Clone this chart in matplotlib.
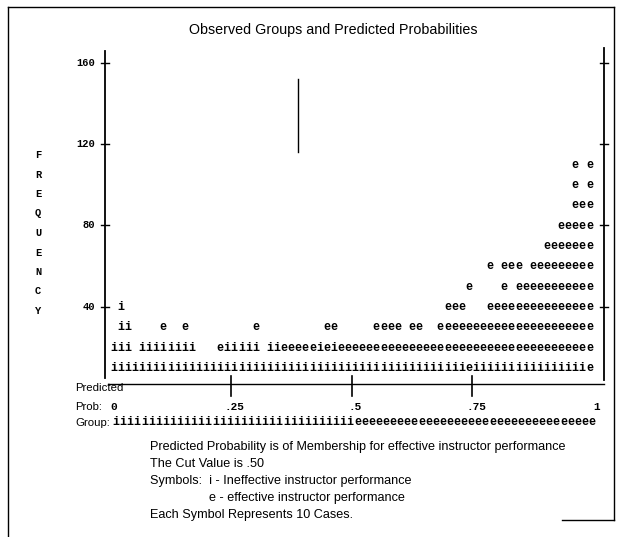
import matplotlib
matplotlib.use("Agg")
import matplotlib.pyplot as plt
from matplotlib.lines import Line2D

# --- chart data -------------------------------------------------------------
n_cols = 68                      # columns across predicted probability 0..1
row_freq = [10, 20, 30, 40, 50, 60, 70, 80, 90, 100, 110]
# symbol rows, bottom to top (each symbol = 10 cases)
symbol_rows = [
    "iiiiiiiiii" "iiiiiiiiii" "iiiiiiiiii" "iiiiiiiiii" "iiiiiiiiii" "eiiiiiiiii" "iiiiiiie",
    "iii iiiiii" "ii   eiiii" "i iieeeeei" "eieeeeeeee" "eeeeeeeeee" "eeeeeeeeee" "eeeeeeee",
    " ii    e  " "e         " "e         " "ee     eee" "e ee  eeee" "eeeeeeeeee" "eeeeeeee",
    " i        " "          " "          " "          " "       eee" "   eeeeeee" "eeeeeeee",
    "          " "          " "          " "          " "          " "e    e eee" "eeeeeeee",
    "          " "          " "          " "          " "          " "   e eee e" "eeeeeeee",
    "          " "          " "          " "          " "          " "          " " eeeeeee",
    "          " "          " "          " "          " "          " "          " "   eeeee",
    "          " "          " "          " "          " "          " "          " "     eee",
    "          " "          " "          " "          " "          " "          " "     e e",
    "          " "          " "          " "          " "          " "          " "     e e",
]
group_row = ("iiiiiiiiii" "iiiiiiiiii" "iiiiiiiiii" "iiii"
             "eeee" "eeeeeeeeee" "eeeeeeeeee" "eeeeeeeeee")
prob_ticks = [0, 0.25, 0.5, 0.75, 1]
prob_labels = ["0", ".25", ".5", ".75", "1"]
freq_ticks = [40, 80, 120, 160]
freq_letters = "FREQUENCY"

title = "Observed Groups and Predicted Probabilities"
notes = [
    "Predicted Probability is of Membership for effective instructor performance",
    "The Cut Value is .50",
    "Symbols:  i - Ineffective instructor performance",
    "e - effective instructor performance",
    "Each Symbol Represents 10 Cases.",
]
notes_x = [150, 150, 150, 209, 150]

# --- figure ----------------------------------------------------------------
W, H = 622, 537
fig = plt.figure(figsize=(W / 100, H / 100), dpi=100)
fig.patch.set_facecolor("white")

mono = "Liberation Mono"
sans = "Liberation Sans"

x0, x1 = 110, 593        # pixel position of prob 0 and 1
y0 = 388                 # pixel position of frequency 0
ppf = 2.033              # pixels per frequency unit
ymax = 175
ax = fig.add_axes([x0 / W, 1 - y0 / H, (x1 - x0) / W, ymax * ppf / H])
ax.set_xlim(0, 1)
ax.set_ylim(0, ymax)
ax.axis("off")

# symbols
for freq, row in zip(row_freq, symbol_rows):
    for k, ch in enumerate(row):
        if ch == " ":
            continue
        ax.text((k + 0.5) / n_cols, freq - 1.7, ch, ha="center", va="baseline",
                fontsize=8.5, family=mono, fontweight="bold", clip_on=False)

# frame of the plot
lx, rx = -0.0104, 1.0228
ax.plot([lx, lx], [5, 166], color="black", lw=1.3, clip_on=False)
ax.plot([rx, rx], [4, 167], color="black", lw=1.3, clip_on=False)
for t in freq_ticks:
    ax.plot([lx - 0.009, lx + 0.008], [t, t], color="black", lw=1.0, clip_on=False)
    ax.plot([rx - 0.008, rx + 0.009], [t, t], color="black", lw=1.0, clip_on=False)
    ax.text(-0.031, t, str(t), ha="right", va="center", fontsize=7.5,
            family=mono, fontweight="bold", clip_on=False)
# stray mark from the original output
ax.plot([0.389, 0.389], [116, 152], color="black", lw=1.0, clip_on=False)

# predicted probability axis
ax.plot([-0.004, rx], [2.0, 2.0], color="black", lw=1.0, clip_on=False)
for t in prob_ticks[1:-1]:
    ax.plot([t, t], [-4, 6], color="black", lw=1.2, clip_on=False)
for t, lab in zip(prob_ticks, prob_labels):
    ax.text(t + 0.008, -9.3, lab, ha="center", va="center", fontsize=8,
            family=mono, fontweight="bold", clip_on=False)
for k, ch in enumerate(group_row):
    ax.text((k + 0.5) / n_cols + 0.005, -18.4, ch, ha="center", va="baseline",
            fontsize=8.5, family=mono, fontweight="bold", clip_on=False)

# labels
fig.text(333 / W, 1 - 30 / H, title, ha="center", va="center", fontsize=10.3, family=sans)
for i, ch in enumerate(freq_letters):
    fig.text(38 / W, 1 - (155 + 19.5 * i) / H, ch, ha="center", va="center",
             fontsize=7.5, family=mono, fontweight="bold")
for lab, py in zip(["Predicted", "Prob:", "Group:"], [388, 407, 423]):
    fig.text(75 / W, 1 - py / H, lab, ha="left", va="center", fontsize=8.2, family=sans)
for i, (line, nx) in enumerate(zip(notes, notes_x)):
    fig.text(nx / W, 1 - (447 + 17 * i) / H, line, ha="left", va="center",
             fontsize=9.1, family=sans)

# page border
for xs, ys in [([8, 614], [7, 7]), ([8, 8], [7, 537]), ([614, 614], [7, 520]),
               ([562, 614], [520, 520])]:
    fig.add_artist(Line2D([x / W for x in xs], [1 - y / H for y in ys],
                          color="black", lw=1.0))

fig.savefig("out.png", dpi=100)
